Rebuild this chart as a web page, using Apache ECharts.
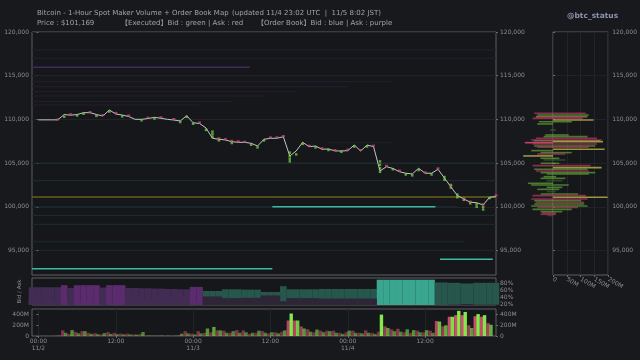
<!DOCTYPE html>
<html><head><meta charset="utf-8">
<script src="https://cdn.jsdelivr.net/npm/echarts@6/dist/echarts.min.js"></script>
<style>html,body{margin:0;padding:0;background:#18191d;}#c{width:640px;height:360px;}</style>
</head><body><div id="c"></div>
<script>
// ---------- DATA ----------
// hours since 11/2 00:00 (UTC); axis spans 11/1 23:00 .. 11/4 23:00
const xTickHours = [0, 12, 24, 36, 48, 60];
const xTickLabels = ['00:00\n11/2', '12:00', '00:00\n11/3', '12:00', '00:00\n11/4', '12:00'];
const priceTicks = [95000, 100000, 105000, 110000, 115000, 120000];
const pctTicks = [20, 40, 60, 80];
const volTicks = [0, 200, 400];
const obTicks = [0, 50, 100, 150, 200];

// hourly close price, h = 0..71
const price = [
 109950,109950,109950,109950,110560,110480,110560,110770,110770,110560,
 110390,111080,110620,110500,110330,110010,110010,110100,110240,110130,
 110010,109930,109820,110420,109620,109530,109020,107840,107730,107650,
 107450,107380,107380,107270,106960,107730,107840,107840,108020,105810,
 106390,107380,106880,106960,106580,106620,106390,106390,106420,107070,
 106390,107070,106880,104100,104590,104390,104020,103840,103760,104410,
 103840,103840,104290,103300,102270,101300,100900,100520,100470,100210,
 101090,101169];

// executed maker fills shown on the price map [hour, price]
const execBid = [[4,110300],[6,110450],[7,110650],[9,110400],[11,110900],[13,110350],[16,109900],[18,110100],
 [22,109700],[23,110300],[24,109500],[26,108800],[27,108600],[27,108300],[27,108000],[28,107600],[30,107300],
 [33,107100],[34,106800],[35,107600],[39,105800],[39,105500],[39,105200],[39,106200],[40,106000],[41,107200],
 [43,106800],[45,106500],[47,106300],[49,106900],[51,106900],[53,104000],[53,104400],[53,104800],[53,105200],
 [55,104300],[57,103700],[58,103600],[59,104200],[61,103700],[63,103400],[63,103100],[64,102200],[64,102500],
 [65,101400],[65,101100],[66,100800],[67,100400],[68,100300],[68,100000],[69,100000],[69,99700],[70,101000]];
const execAsk = [[3,110000],[5,110600],[8,110850],[10,110500],[12,110750],[14,110450],[17,110200],[19,110250],
 [21,110050],[25,109650],[28,107850],[29,107750],[30,107550],[31,107500],[32,107450],[36,107950],[37,107950],
 [38,108100],[42,107000],[44,106700],[46,106500],[48,106550],[50,106500],[52,107000],[54,104700],[56,104150],
 [60,103950],[62,104400],[64,102400],[66,101000],[67,100600],[69,100300],[71,101300]];

// order book walls over time [fromHour, toHour, price]
const wallBidStrong = [[-1,36.3,92920],[36.3,61.6,100000],[62.3,70.5,94000]];
const wallBidFaint = [[-1,36.3,100000],[61.6,65,100000],[-1,71,105000],[-1,71,103000],[-1,71,98000],[-1,66,96000],[-1,71,99000]];
const wallMid = [[-1,71,101120]];
const wallAskStrong = [[-1,32.8,115960]];
const wallAskFaint = [[-1,71,117940],[-1,71,117000],[-1,71,115000],[-1,55,114310],[-1,48,113740],[-1,40,113170],
 [-1,35,112680],[-1,30,112030],[-1,25,111650],[45,55,107340]];

// bid share of order book (%), h = -1..71
const bidShare = [
 31,31,31,31,31,25,33,25,25,25,25,32,25,25,25,33,33,34,34,35,35,36,36,37,37,
 30,30,58,58,58,63,63,63,62,62,62,55,55,55,72,63,63,63,63,63,64,64,64,64,64,
 64,64,64,64,91,91,91,91,91,91,91,91,91,83,83,82,82,80,80,82,82,82,82];

// hourly executed maker volume (M USD), h = 0..71
const volAsk = [5,3,3,10,105,40,75,90,60,55,30,75,60,45,45,30,40,12,10,15,10,8,20,90,45,90,60,70,105,100,
 60,110,105,40,60,90,50,70,80,290,290,180,125,70,100,100,100,60,70,100,60,105,60,80,180,125,135,70,60,100,
 70,100,280,180,360,390,390,200,370,360,240,0];
const volBid = [3,2,2,8,60,110,50,90,40,35,55,40,35,30,30,25,75,10,8,10,8,8,45,50,30,50,140,170,105,60,
 90,60,70,60,100,60,70,50,105,420,290,140,80,120,70,90,60,40,100,60,50,60,40,400,150,90,80,125,110,70,
 110,60,270,200,360,470,450,150,410,390,210,0];

// current order book depth [price, leftM, rightM]
const obAsk = [[110700,-68,119],[110300,-62,123],[110120,-74,108],[107840,-62,159],[107650,-79,176],[107190,-74,159],
 [106810,-57,130],[106040,-57,45],[104710,-74,136],[104100,-62,130],[101280,-74,119],[100900,-79,125],
 [100520,-62,113],[99940,-57,91],[99300,-40,10],[99140,-45,11]];
const obAskStrong = [[107340,-102,0]];
const obBid = [[110500,-57,130],[110320,-62,125],[109740,-51,68],[109480,-57,0],[108220,-28,57],[108030,-34,125],
 [107560,-70,170],[106960,-68,153],[106430,-79,0],[106200,-45,68],[105550,-45,23],[104980,-45,23],[104290,-68,125],
 [103910,-45,153],[103760,-23,130],[103450,-34,11],[103260,-45,45],[102690,-91,0],[102500,-79,57],[102230,-23,34],
 [102000,-57,23],[101470,-45,91],[100710,-68,102],[100330,-68,113],[100100,-79,125],[99710,-74,68],[99450,-45,34]];
const obBoth = [[109930,0,147],[107460,0,181],[106580,0,187],[105820,-108,0],[104480,0,176],[101090,0,198]];
const obDim = [[108790,-11,11],[105360,-34,45],[102990,-23,34],[101740,-23,11],[99000,-20,0]];

// ---------- CHART ----------
const FONT = 'DejaVu Sans, Noto Sans CJK JP, sans-serif';
const LBL = {color:'#8d8d92', fontSize:6, fontFamily:FONT};
const fmtPrice = v => v.toLocaleString('en-US');
const priceData = price.map((p,i)=>[i,p]);
const shareBid = bidShare.map((v,i)=>[i-1,v]);
const shareAsk = bidShare.map((v,i)=>[i-1,100-v]);
const vAsk = volAsk.map((v,i)=>[i,v]);
const vBid = volBid.map((v,i)=>[i,v]);
const volAlpha = v => Math.min(1, 0.4 + 0.6 * v / 400);

function hLine(color, width){
  return function(params, api){
    const a = api.coord([api.value(0), api.value(2)]);
    const b = api.coord([api.value(1), api.value(2)]);
    return {type:'line', shape:{x1:a[0],y1:a[1],x2:b[0],y2:b[1]}, style:{stroke:color, lineWidth:width}};
  };
}
function obRect(color){
  return function(params, api){
    const a = api.coord([api.value(1), api.value(0)]);
    const b = api.coord([api.value(2), api.value(0)]);
    return {type:'rect', shape:{x:a[0], y:a[1]-0.8, width:b[0]-a[0], height:1.6}, style:{fill:color}};
  };
}
function wallSeries(data, color, width){
  return {type:'custom', xAxisIndex:0, yAxisIndex:0, data:data, encode:{x:[0,1], y:2}, clip:true,
    renderItem:hLine(color,width), silent:true, z:1};
}
function obSeries(data, color){
  return {type:'custom', xAxisIndex:3, yAxisIndex:6, data:data, encode:{x:[1,2], y:0}, clip:false,
    renderItem:obRect(color), silent:true};
}
const gridStyle = {show:true, borderColor:'#5c5c62', borderWidth:1, backgroundColor:'#16171b'};
const timeAxisBase = {type:'value', min:-1, max:71, axisLine:{show:false}, axisTick:{show:false}, axisLabel:{show:false}, splitLine:{show:false}};

const chart = echarts.init(document.getElementById('c'), null, {renderer:'canvas'});
chart.setOption({
  backgroundColor:'#18191d',
  animation:false,
  textStyle:{fontFamily:FONT},
  title:[
    {text:'Bitcoin - 1-Hour Spot Maker Volume + Order Book Map', left:32, top:5, textStyle:{color:'#a2a2a8', fontSize:7, fontWeight:'normal', fontFamily:FONT}},
    {text:'(updated 11/4 23:02 UTC  |  11/5 8:02 JST)', left:227, top:5, textStyle:{color:'#a2a2a8', fontSize:7, fontWeight:'normal', fontFamily:FONT}},
    {text:'Price : $101,169', left:32, top:15, textStyle:{color:'#a2a2a8', fontSize:7, fontWeight:'normal', fontFamily:FONT}},
    {text:'【Executed】Bid : green | Ask : red', left:116, top:15, textStyle:{color:'#a2a2a8', fontSize:7, fontWeight:'normal', fontFamily:FONT}},
    {text:'【Order Book】Bid : blue | Ask : purple', left:252, top:15, textStyle:{color:'#a2a2a8', fontSize:7, fontWeight:'normal', fontFamily:FONT}},
    {text:'@btc_status', left:562, top:7, textStyle:{color:'#8c93ad', fontSize:7.5, fontWeight:'bold', fontFamily:FONT}}
  ],
  grid:[
    Object.assign({left:32, top:32, width:464, height:243}, gridStyle),
    Object.assign({left:32, top:278, width:464, height:27}, gridStyle),
    Object.assign({left:32, top:309, width:464, height:27}, gridStyle),
    Object.assign({left:553, top:32, width:59, height:243}, gridStyle)
  ],
  xAxis:[
    Object.assign({gridIndex:0}, timeAxisBase),
    Object.assign({gridIndex:1}, timeAxisBase),
    {gridIndex:2, type:'value', min:-1, max:71, axisLine:{show:false},
      axisTick:{show:true, customValues:xTickHours, length:2, lineStyle:{color:'#6a6a70'}},
      axisLabel:Object.assign({customValues:xTickHours, formatter:(v)=>xTickLabels[xTickHours.indexOf(v)], lineHeight:7, margin:2}, LBL),
      splitLine:{show:true, lineStyle:{color:'#232429', width:1}}},
    {gridIndex:3, type:'value', min:0, max:200, axisLine:{show:false},
      axisTick:{show:true, customValues:obTicks, length:2, lineStyle:{color:'#6a6a70'}},
      axisLabel:Object.assign({customValues:obTicks, rotate:-30, margin:4, formatter:v=> v===0?'0':v+'M'}, LBL),
      splitLine:{show:true, lineStyle:{color:'#232429'}}}
  ],
  yAxis:[
    {gridIndex:0, type:'value', min:92200, max:120000, position:'left', axisLine:{show:false},
      axisTick:{show:true, customValues:priceTicks, length:2, lineStyle:{color:'#6a6a70'}},
      axisLabel:Object.assign({customValues:priceTicks, formatter:fmtPrice, margin:3}, LBL),
      splitLine:{show:true, lineStyle:{color:'#222328'}}},
    {gridIndex:0, type:'value', min:92200, max:120000, position:'right', axisLine:{show:false},
      axisTick:{show:true, customValues:priceTicks, length:2, lineStyle:{color:'#6a6a70'}},
      axisLabel:Object.assign({customValues:priceTicks, formatter:fmtPrice, margin:4}, LBL),
      splitLine:{show:false}},
    {gridIndex:1, type:'value', min:17, max:96, position:'left', axisLine:{show:false}, axisTick:{show:false},
      axisLabel:{show:false}, splitLine:{show:false},
      name:'Bid / Ask', nameLocation:'middle', nameGap:10, nameRotate:90, nameTextStyle:{color:'#8d8d92', fontSize:5.5, fontFamily:FONT}},
    {gridIndex:1, type:'value', min:17, max:96, position:'right', axisLine:{show:false},
      axisTick:{show:true, customValues:pctTicks, length:2, lineStyle:{color:'#6a6a70'}},
      axisLabel:Object.assign({customValues:pctTicks, formatter:v=>v+'%', margin:4}, LBL),
      splitLine:{show:false}},
    {gridIndex:2, type:'value', min:0, max:505, position:'left', axisLine:{show:false},
      axisTick:{show:true, customValues:volTicks, length:2, lineStyle:{color:'#6a6a70'}},
      axisLabel:Object.assign({customValues:volTicks, formatter:v=>v===0?'0':v+'M', margin:3}, LBL),
      splitLine:{show:false}},
    {gridIndex:2, type:'value', min:0, max:505, position:'right', axisLine:{show:false},
      axisTick:{show:true, customValues:volTicks, length:2, lineStyle:{color:'#6a6a70'}},
      axisLabel:Object.assign({customValues:volTicks, formatter:v=>v===0?'0':v+'M', margin:4}, LBL),
      splitLine:{show:false}},
    {gridIndex:3, type:'value', min:92200, max:120000, position:'right', axisLine:{show:false},
      axisTick:{show:true, customValues:priceTicks, length:2, lineStyle:{color:'#6a6a70'}},
      axisLabel:Object.assign({customValues:priceTicks, formatter:fmtPrice, margin:4}, LBL),
      splitLine:{show:true, lineStyle:{color:'#222328'}}}
  ],
  series:[
    wallSeries(wallBidFaint, '#1b2f30', 1),
    wallSeries(wallAskFaint, '#251f2f', 1),
    wallSeries(wallAskStrong, '#43285a', 1.5),
    wallSeries(wallMid, '#66621e', 1.5),
    wallSeries(wallBidStrong, '#3cb9a2', 1.5),
    {type:'line', xAxisIndex:0, yAxisIndex:0, data:priceData, showSymbol:false, z:3,
      lineStyle:{color:'#c4c4c8', width:1}, silent:true},
    {type:'scatter', xAxisIndex:0, yAxisIndex:0, data:execBid, symbol:'rect', symbolSize:[2.5,2.5], z:4,
      itemStyle:{color:'#7cdc45', opacity:0.7}, silent:true},
    {type:'scatter', xAxisIndex:0, yAxisIndex:0, data:execAsk, symbol:'rect', symbolSize:[3,2], z:4,
      itemStyle:{color:'#d24f70', opacity:0.75}, silent:true},
    {type:'bar', xAxisIndex:1, yAxisIndex:2, data:shareBid, stack:'share', barWidth:6.6,
      itemStyle:{color:(p)=> p.value[1] >= 85 ? '#3aa68f' : '#27564c'}, silent:true},
    {type:'bar', xAxisIndex:1, yAxisIndex:2, data:shareAsk, stack:'share', barWidth:6.6,
      itemStyle:{color:(p)=> p.value[1] >= 70 ? '#5a2b6d' : (p.value[1] >= 55 ? '#432c54' : '#2e2537')}, silent:true},
    {type:'bar', xAxisIndex:2, yAxisIndex:4, data:vAsk, barWidth:3.4, barGap:'-15%',
      itemStyle:{color:(p)=>'rgba(214,78,112,' + volAlpha(p.value[1]) + ')'}, silent:true},
    {type:'bar', xAxisIndex:2, yAxisIndex:4, data:vBid, barWidth:3.4, barGap:'-15%',
      itemStyle:{color:(p)=>'rgba(130,235,75,' + volAlpha(p.value[1]) + ')'}, silent:true},
    obSeries(obDim, 'rgba(55,90,45,0.7)'),
    obSeries(obBid, 'rgba(100,175,55,0.65)'),
    obSeries(obAsk, 'rgba(195,62,102,0.65)'),
    obSeries(obAskStrong, 'rgba(220,70,115,0.9)'),
    obSeries(obBoth, 'rgba(180,172,70,0.85)')
  ]
});
</script>
</body></html>
